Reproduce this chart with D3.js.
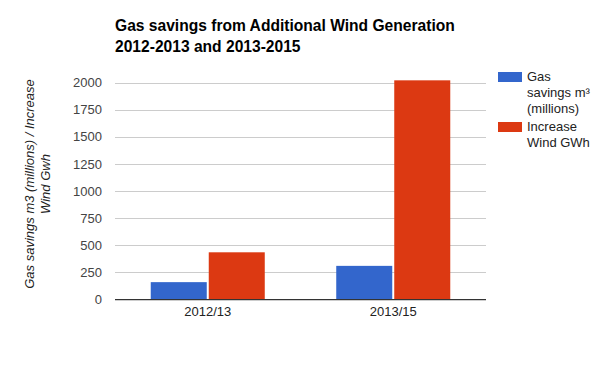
<!DOCTYPE html>
<html>
<head>
<meta charset="utf-8">
<script src="https://cdn.jsdelivr.net/npm/d3@7"></script>
<style>
  body { margin: 0; background: #fff; }
  svg { font-family: Arial, "Liberation Sans", sans-serif; }
</style>
</head>
<body>
<script>
'use strict';

// chart data
const categories = ["2012/13", "2013/15"];
const seriesNames = ["Gas savings m\u00b3 (millions)", "Increase Wind GWh"];
const gasSavings = [160, 310];
const windIncrease = [435, 2020];
const yTicks = [0, 250, 500, 750, 1000, 1250, 1500, 1750, 2000];
const colors = ["#3366cc", "#dc3912"];

const legendLines = [["Gas", "savings m\u00b3", "(millions)"], ["Increase", "Wind GWh"]];

(function() {

  let svg = d3.select('body').append('svg')
    .attr('width', 600)
    .attr('height', 371);

  // plot area
  let left = 115, right = 486, plotTop = 82.5, bottom = 299.5;

  let x0 = d3.scaleBand()
    .domain(categories)
    .range([left, right])
    .padding(0);

  let x1 = d3.scaleBand()
    .domain([0, 1])
    .range([0, x0.bandwidth()])
    .paddingInner(0)
    .paddingOuter(0.627);

  let y = d3.scaleLinear()
    .domain([0, 2000])
    .range([bottom, plotTop]);

  // gridlines
  let yAxis = d3.axisLeft(y)
    .tickValues(yTicks)
    .tickFormat(d3.format('d'))
    .tickSize(-(right - left))
    .tickPadding(13);
  let gy = svg.append('g')
    .attr('transform', 'translate(' + left + ',0)')
    .call(yAxis);
  gy.select('.domain').remove();
  gy.selectAll('.tick line')
    .attr('stroke', '#cccccc')
    .attr('shape-rendering', 'crispEdges');
  gy.selectAll('.tick text')
    .attr('fill', '#444444')
    .style('font-size', '13px')
    .style('font-family', 'Arial, "Liberation Sans", sans-serif');

  // bars
  let values = [gasSavings, windIncrease];
  for (let s = 0; s < values.length; s++) {
    svg.append('g')
      .selectAll('rect')
      .data(categories)
      .enter()
      .append('rect')
        .attr('x', (d) => x0(d) + x1(s) + (s == 1 ? 1 : 0))
        .attr('y', (d, i) => y(values[s][i]))
        .attr('width', x1.bandwidth() - 1)
        .attr('height', (d, i) => y(0) - y(values[s][i]))
        .attr('fill', colors[s]);
  }

  // baseline
  svg.append('line')
    .attr('x1', left).attr('x2', right)
    .attr('y1', y(0)).attr('y2', y(0))
    .attr('stroke', '#333333')
    .attr('shape-rendering', 'crispEdges');

  // x labels
  svg.append('g')
    .selectAll('text')
    .data(categories)
    .enter()
    .append('text')
      .attr('x', (d) => x0(d) + x0.bandwidth() / 2)
      .attr('y', 316)
      .attr('text-anchor', 'middle')
      .attr('fill', '#222222')
      .style('font-size', '13px')
      .text((d) => d);

  // title
  let title = svg.append('text')
    .attr('x', left)
    .attr('y', 31)
    .style('font-size', '15.6px')
    .style('font-weight', 'bold')
    .attr('fill', '#000');
  title.append('tspan').attr('x', left).text("Gas savings from Additional Wind Generation");
  title.append('tspan').attr('x', left).attr('dy', 21).text("2012-2013 and 2013-2015");

  // y axis title
  let yTitle = svg.append('text')
    .attr('transform', 'translate(34, 184)rotate(-90)')
    .attr('text-anchor', 'middle')
    .attr('fill', '#222222')
    .style('font-size', '13px')
    .style('font-style', 'italic');
  yTitle.append('tspan').attr('x', 0).attr('y', 0).text("Gas savings m3 (millions) / Increase");
  yTitle.append('tspan').attr('x', 0).attr('dy', 16).text("Wind Gwh");

  // legend
  let legendY = [72, 122];
  for (let s = 0; s < seriesNames.length; s++) {
    let g = svg.append('g');
    g.append('rect')
      .attr('x', 498).attr('y', legendY[s])
      .attr('width', 24).attr('height', 10)
      .attr('fill', colors[s]);
    let t = g.append('text')
      .attr('fill', '#222222')
      .style('font-size', '13px');
    legendLines[s].forEach((line, i) => {
      t.append('tspan')
        .attr('x', 527)
        .attr('y', legendY[s] + 9 + i * 16)
        .text(line);
    });
  }
})();
</script>
</body>
</html>
